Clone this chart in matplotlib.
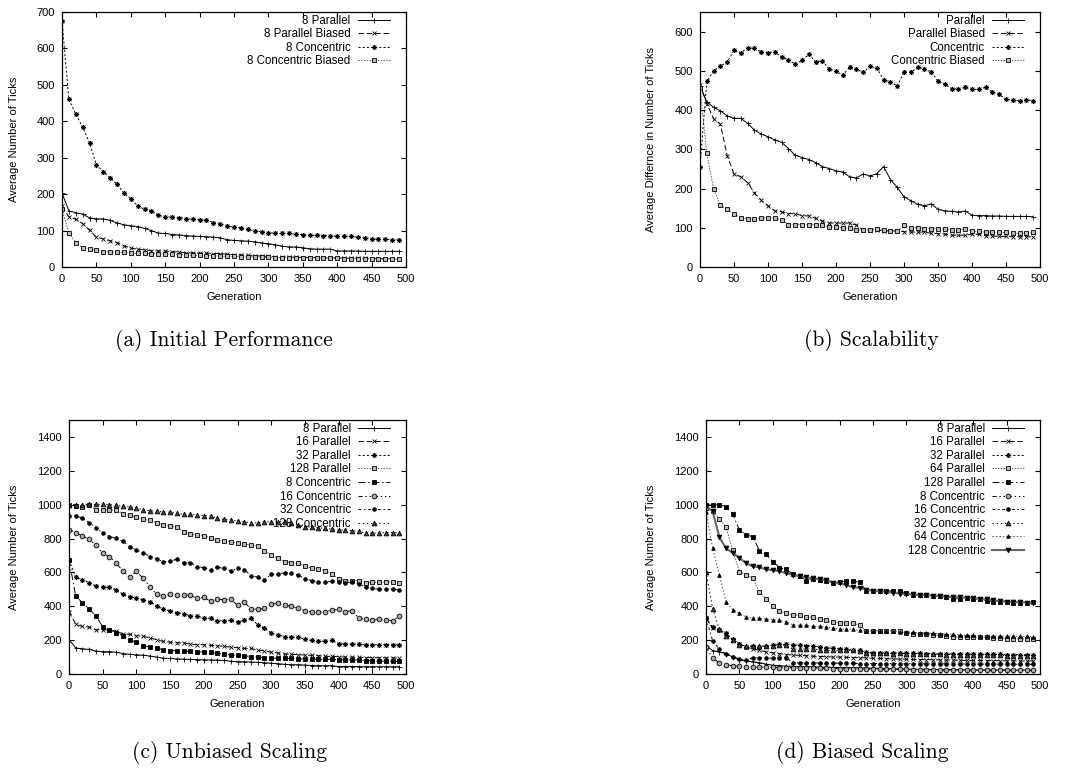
import numpy as np
import matplotlib
matplotlib.use("Agg")
import matplotlib.pyplot as plt

plt.rcParams['font.family'] = ['Liberation Sans', 'DejaVu Sans']
plt.rcParams['font.size'] = 8
plt.rcParams['lines.scale_dashes'] = False

# generations sampled every 10
gens = np.arange(0, 500, 10)

# (a) initial performance
a_par = [203,154,149,145,135,132,132,128,121,116, 113,111,106,100,93,92,89,88,86,85,
         84,83,82,80,75,73,72,71,69,66, 64,61,57,55,55,53,50,49,49,49,
         44,44,44,44,43,43,43,43,43,43]
a_par_b = [167,138,131,119,101,82,77,72,67,58, 52,49,47,45,44,44,42,41,39,39,
           38,38,37,37,35,34,33,32,31,30, 29,28,28,27,27,26,26,26,25,25,
           25,24,24,24,24,23,23,23,23,23]
a_conc = [676,460,420,384,341,280,262,245,227,203, 187,168,158,154,142,138,137,135,133,131,
          130,128,122,119,112,110,107,103,99,97, 94,93,92,92,90,89,87,87,86,86,
          84,84,84,82,79,77,76,76,75,74]
a_conc_b = [158,94,66,53,50,46,42,41,41,40, 39,38,38,37,36,36,35,34,33,32,
            32,31,31,30,29,29,28,28,28,27, 27,26,26,26,25,25,25,24,24,24,
            24,23,23,23,23,23,22,22,22,22]

# (b) scalability
b_par = [462,421,407,398,385,379,379,366,349,339, 332,324,318,302,285,279,274,266,256,251,
         245,242,230,227,237,232,238,256,223,203, 179,169,160,156,161,147,143,142,140,143,
         132,131,131,130,130,129,129,129,129,128]
b_par_b = [465,416,378,364,284,237,230,215,189,170, 156,143,141,136,136,131,130,124,116,112,
           112,112,112,107,94,94,94,92,92,92, 90,89,89,89,86,85,84,81,81,81,
           84,83,80,79,78,78,77,77,77,77]
b_conc = [256,473,500,512,522,552,546,559,557,548, 546,549,535,528,517,527,542,523,525,505,
          499,489,509,504,496,512,507,477,472,461, 497,496,509,505,497,474,466,455,453,458,
          453,453,458,446,440,427,426,423,426,424]
b_conc_b = [456,290,199,157,147,135,126,123,123,125, 125,124,121,108,108,108,108,108,106,102,
            102,99,99,95,94,95,97,94,92,92, 106,100,100,98,98,97,97,95,94,98,
            91,91,89,89,88,88,86,86,86,88]

# (c) unbiased scaling (8 parallel / 8 concentric are the runs from (a))
c_par16 = [369,293,281,277,261,261,261,251,238,234, 226,222,214,202,192,188,185,183,177,173,
           173,169,167,163,159,155,151,151,141,137, 128,124,118,116,114,112,110,108,104,104,
           102,100,99,98,97,96,96,95,95,94]
c_par32 = [673,571,556,540,518,512,512,497,471,457, 448,438,428,403,381,373,363,355,344,340,
           332,328,314,314,316,308,316,328,291,271, 242,232,220,216,220,204,198,196,192,198,
           179,177,177,175,173,173,173,173,173,173]
c_par128 = [996,990,988,996,968,968,968,968,943,937, 925,913,909,893,882,874,870,840,827,821,
            817,805,791,787,781,772,768,762,756,728, 703,683,664,658,654,640,624,618,611,591,
            560,552,552,552,540,542,542,542,546,538]
c_conc16 = [852,835,815,795,760,713,693,654,609,571, 607,565,516,471,461,471,465,469,465,446,
            452,430,442,438,442,406,426,383,383,387, 412,418,408,399,389,373,367,365,369,377,
            381,367,375,330,324,318,322,320,314,342]
c_conc32 = [931,933,921,893,864,833,811,803,783,752, 732,717,693,681,662,668,677,658,658,634,
            628,617,630,624,609,624,617,581,571,556, 589,589,599,595,585,562,552,544,542,548,
            546,540,542,532,516,505,501,501,501,497]
c_conc128 = [1000,1000,1000,1003,1001,1001,1000,996,990,986, 982,968,964,962,956,956,948,945,943,939,
             935,933,919,913,909,903,899,893,893,899, 899,899,899,889,878,870,868,864,860,856,
             850,850,846,844,831,831,833,835,835,835]

# (d) biased scaling (8 parallel / 8 concentric are the biased runs from (a))
d_par16 = [330,270,258,235,200,175,160,148,140,130, 125,120,115,112,110,108,105,103,102,100,
           100,98,97,96,95,93,92,90,89,88, 87,86,85,85,84,83,82,82,81,80,
           80,80,79,79,78,78,78,77,77,77]
d_par32 = [330,275,262,240,205,178,162,165,162,165, 170,175,175,172,170,168,165,160,155,152,
           148,145,142,140,128,126,125,125,124,124, 123,122,122,121,121,120,120,119,119,118,
           118,117,117,116,116,115,115,115,114,114]
d_par64 = [980,964,915,868,730,603,585,565,485,442, 400,370,362,348,348,336,336,326,316,305,
           301,301,301,287,255,255,255,255,255,251, 242,238,238,238,230,228,226,218,218,218,
           218,216,216,212,212,208,208,208,206,204]
d_par128 = [997,998,1000,988,945,850,823,810,728,706, 664,628,618,589,580,550,562,556,552,538,
            545,548,548,542,491,491,491,491,491,491, 477,467,467,467,461,459,457,444,444,448,
            444,442,434,426,428,426,422,422,422,424]
d_conc16 = [330,195,146,117,103,88,80,97,95,94, 94,94,96,66,66,66,66,64,64,64,
            64,63,63,62,62,62,62,61,61,61, 61,60,60,60,60,60,60,59,59,59,
            59,59,58,58,58,58,58,57,57,57]
d_conc32 = [605,385,265,222,202,173,163,167,163,167, 167,171,169,147,147,147,147,143,139,139,
            139,139,139,134,124,124,124,122,120,122, 120,120,118,118,117,116,115,115,114,114,
            112,112,111,110,110,109,109,108,108,108]
d_conc64 = [955,742,585,425,380,359,336,330,330,324, 320,316,310,291,287,287,281,281,277,271,
            265,265,265,257,255,255,255,253,252,250, 248,246,244,242,240,238,236,234,232,230,
            228,227,226,225,224,224,223,222,222,221]
d_conc128 = [992,960,808,742,715,685,655,635,630,618, 613,607,595,585,578,570,565,560,555,540,
             535,525,512,510,497,493,490,485,480,475, 472,470,468,465,463,460,457,455,452,450,
             447,445,440,435,430,428,426,424,422,420]

# gnuplot style line types
lt = {
    1: dict(ls='-', marker='+', color='k', mfc='k'),
    2: dict(ls=(0, (4, 2)), marker='x', color='k', mfc='k', ms=3),
    3: dict(ls=(0, (1.5, 1.5)), marker=(8, 2, 0), color='k', mfc='k'),
    4: dict(ls=(0, (1, 1)), marker='s', color='#555555', mfc='#bbbbbb', ms=3.2),
    5: dict(ls=(0, (5, 2, 1, 2)), marker='s', color='k', mfc='k', ms=3.2),
    6: dict(ls=(0, (3, 2, 1, 2, 1, 2)), marker='o', color='k', mfc='#aaaaaa', ms=3.4),
    7: dict(ls=(0, (2, 2, 1, 2)), marker='o', color='k', mfc='k', ms=2.6),
    8: dict(ls=(0, (1, 2)), marker='^', color='k', mfc='#444444', ms=3.4),
    9: dict(ls=(0, (1, 1.5)), marker='^', color='#444444', mfc='k', ms=2.6),
    10: dict(ls='-', marker='v', color='#666666', mfc='k', lw=1.5, ms=3.4),
}


def panel(rect, series, ymax, ystep, ylabel, ylab_x):
    ax = fig.add_axes(rect)
    for label, y, t in series:
        st = dict(lw=0.7, ms=3.6, mew=0.6, mec='k')
        st.update(lt[t])
        ax.plot(gens, y, label=label, **st)
    ax.set_xlim(0, 500)
    ax.set_ylim(0, ymax)
    ax.set_xticks(range(0, 501, 50))
    ax.set_yticks(range(0, int(ymax) + 1, ystep))
    ax.tick_params(direction='in', top=True, right=True, length=3.5, width=0.8, pad=5)
    for s in ax.spines.values():
        s.set_linewidth(0.9)
    ax.set_xlabel('Generation', labelpad=6)
    ax.set_ylabel(ylabel)
    ax.yaxis.set_label_coords(ylab_x, 0.5)
    ax.legend(loc='upper right', bbox_to_anchor=(0.953, 0.99), frameon=False,
              markerfirst=False, numpoints=1, handlelength=2.8, handletextpad=0.6,
              labelspacing=0.14, borderpad=0, borderaxespad=0, fontsize=8.3)
    return ax


fig = plt.figure(figsize=(10.73, 7.79), dpi=100)
W, H = 1073.0, 779.0

panel([62 / W, 1 - 267 / H, 344 / W, 255 / H],
      [('8 Parallel', a_par, 1), ('8 Parallel Biased', a_par_b, 2),
       ('8 Concentric', a_conc, 3), ('8 Concentric Biased', a_conc_b, 4)],
      700, 100, 'Average Number of Ticks', -0.125)

panel([700 / W, 1 - 267 / H, 340 / W, 255 / H],
      [('Parallel', b_par, 1), ('Parallel Biased', b_par_b, 2),
       ('Concentric', b_conc, 3), ('Concentric Biased', b_conc_b, 4)],
      650, 100, 'Average Differnce in Number of Ticks', -0.13)

panel([69 / W, 1 - 674 / H, 337 / W, 254 / H],
      [('8 Parallel', a_par, 1), ('16 Parallel', c_par16, 2), ('32 Parallel', c_par32, 3),
       ('128 Parallel', c_par128, 4), ('8 Concentric', a_conc, 5),
       ('16 Concentric', c_conc16, 6), ('32 Concentric', c_conc32, 7),
       ('128 Concentric', c_conc128, 8)],
      1500, 200, 'Average Number of Ticks', -0.148)

panel([706 / W, 1 - 674 / H, 334 / W, 254 / H],
      [('8 Parallel', a_par_b, 1), ('16 Parallel', d_par16, 2), ('32 Parallel', d_par32, 3),
       ('64 Parallel', d_par64, 4), ('128 Parallel', d_par128, 5),
       ('8 Concentric', a_conc_b, 6), ('16 Concentric', d_conc16, 7),
       ('32 Concentric', d_conc32, 8), ('64 Concentric', d_conc64, 9),
       ('128 Concentric', d_conc128, 10)],
      1500, 200, 'Average Number of Ticks', -0.15)

cap = dict(family='cmr10', fontsize=15.5, ha='center', va='center')
fig.text(224 / W, 1 - 341 / H, '(a) Initial Performance', **cap)
fig.text(871 / W, 1 - 341 / H, '(b) Scalability', **cap)
fig.text(230 / W, 1 - 753 / H, '(c) Unbiased Scaling', **cap)
fig.text(862 / W, 1 - 753 / H, '(d) Biased Scaling', **cap)

fig.savefig('out.png', dpi=100)
